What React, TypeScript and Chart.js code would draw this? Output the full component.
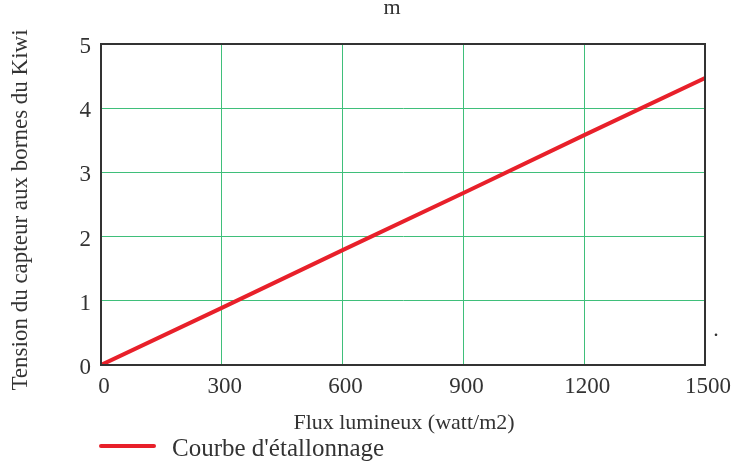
import React, { useEffect, useRef } from "react";
import { Chart, registerables } from "chart.js";

Chart.register(...registerables);

const flux = [0, 300, 600, 900, 1200, 1500];
const tension = [0, 0.89, 1.79, 2.68, 3.58, 4.47];
const xTicks = [0, 300, 600, 900, 1200, 1500];
const yTicks = [0, 1, 2, 3, 4, 5];
const xTitle = "Flux lumineux (watt/m2)";
const yTitle = "Tension du capteur aux bornes du Kiwi";
const legendLabel = "Courbe d'étallonnage";

const FONT = "'Liberation Serif', 'DejaVu Serif', serif";
const TEXT = "#333333";
const GRID = "#3fbf7a";
const RED = "#e8202a";

export default function App() {
  const ref = useRef<HTMLCanvasElement | null>(null);
  useEffect(() => {
    if (!ref.current) return;
    const extras = {
      id: "extras",
      afterDraw(chart: any) {
        const { ctx, chartArea } = chart;
        ctx.save();
        ctx.strokeStyle = "#333333";
        ctx.lineWidth = 2;
        ctx.strokeRect(chartArea.left, chartArea.top, chartArea.right - chartArea.left, chartArea.bottom - chartArea.top);
        ctx.fillStyle = TEXT;
        ctx.font = `22px ${FONT}`;
        ctx.textAlign = "center";
        ctx.textBaseline = "middle";
        ctx.fillText(xTitle, (chartArea.left + chartArea.right) / 2 + 1, 423);
        ctx.textBaseline = "alphabetic";
        ctx.fillText("m", 392, 14);
        ctx.fillText(".", 716, 336);
        ctx.save();
        ctx.font = `23px ${FONT}`;
        ctx.translate(21, 210);
        ctx.rotate(-Math.PI / 2);
        ctx.textBaseline = "middle";
        ctx.fillText(yTitle, 0, 0);
        ctx.restore();
        // legend
        ctx.strokeStyle = RED;
        ctx.lineWidth = 4;
        ctx.lineCap = "round";
        ctx.beginPath();
        ctx.moveTo(101, 446);
        ctx.lineTo(154, 446);
        ctx.stroke();
        ctx.font = `25px ${FONT}`;
        ctx.textAlign = "left";
        ctx.textBaseline = "middle";
        ctx.fillText(chart.data.datasets[0].label, 172, 449);
        ctx.restore();
      },
    };
    const chart = new Chart(ref.current, {
      type: "line",
      data: {
        datasets: [
          {
            label: legendLabel,
            data: flux.map((x, i) => ({ x, y: tension[i] })),
            borderColor: RED,
            backgroundColor: RED,
            borderWidth: 4,
            pointRadius: 0,
            tension: 0,
          },
        ],
      },
      options: {
        responsive: false,
        animation: false,
        layout: { padding: { left: 0, top: 44, right: 36, bottom: 0 } },
        plugins: { legend: { display: false }, tooltip: { enabled: false } },
        scales: {
          x: {
            type: "linear",
            min: 0,
            max: 1500,
            afterFit: (s: any) => { s.height = 97; },
            afterBuildTicks: (s: any) => { s.ticks = xTicks.map((v) => ({ value: v })); },
            ticks: {
              font: { family: FONT, size: 23 },
              color: TEXT,
              padding: 8,
              labelOffset: 3,
              maxRotation: 0,
              callback: (v: any) => String(v),
            },
            grid: { color: GRID, lineWidth: 1, drawTicks: false },
            border: { color: "#333333", width: 2 },
          },
          y: {
            min: 0,
            max: 5,
            afterFit: (s: any) => { s.width = 101; },
            afterBuildTicks: (s: any) => { s.ticks = yTicks.map((v) => ({ value: v })); },
            ticks: {
              font: { family: FONT, size: 23 },
              color: TEXT,
              padding: 10,
              labelOffset: 3,
              callback: (v: any) => String(v),
            },
            grid: { color: GRID, lineWidth: 1, drawTicks: false },
            border: { color: "#333333", width: 2 },
          },
        },
      },
      plugins: [extras],
    });
    return () => chart.destroy();
  }, []);
  return (
    <div style={{ position: "fixed", left: 0, top: 0, width: 741, height: 462, background: "#fff" }}>
      <canvas ref={ref} width={741} height={462} style={{ width: 741, height: 462 }} />
    </div>
  );
}
